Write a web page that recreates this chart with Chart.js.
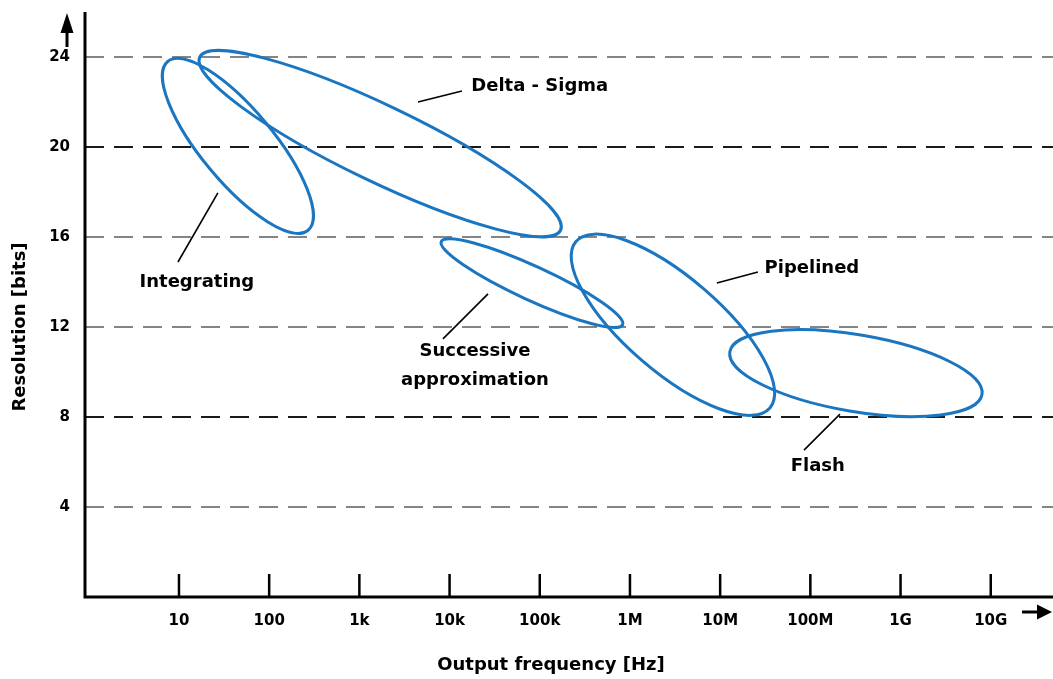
<!DOCTYPE html>
<html>
<head>
<meta charset="utf-8">
<script src="https://cdn.jsdelivr.net/npm/chart.js@4.4.0/dist/chart.umd.min.js"></script>
<style>
  html, body { margin: 0; padding: 0; background: #fff; }
  #wrap { width: 1053px; height: 679px; }
</style>
</head>
<body>
<div id="wrap"><canvas id="myChart" width="1053" height="679"></canvas></div>
<script>
// ADC types: output frequency vs resolution
var freqTicks = [10, 1e2, 1e3, 1e4, 1e5, 1e6, 1e7, 1e8, 1e9, 1e10];
var freqLabels = ['10', '100', '1k', '10k', '100k', '1M', '10M', '100M', '1G', '10G'];
var bitTicks = [4, 8, 12, 16, 20, 24];

// each region is an ellipse: ends of its long axis [Hz, bits] and width / length
var adcNames = ['Integrating', 'Delta - Sigma', 'Successive approximation', 'Pipelined', 'Flash'];
var axisStart = [[7.5, 23.8], [17, 24.0], [8100, 15.8], [252000, 15.8], [1.28e7, 10.9]];
var axisEnd = [[270, 16.3], [170000, 16.3], [830000, 12.1], [3.56e7, 8.4], [8e9, 9.0]];
var widthRatio = [0.33, 0.19, 0.17, 0.37, 0.30];

var FONT = '"DejaVu Sans", sans-serif';
var BLUE = '#1a76c0';

// label text, where it sits and its pointer line (in Hz / bits)
var notes = [
    { lines: ['Integrating'], at: [15.8, 14.0], from: [27, 17.96], to: [9.75, 14.89] },
    { lines: ['Delta - Sigma'], at: [1e5, 22.7], from: [4470, 22.0], to: [13700, 22.49] },
    { lines: ['Successive', 'approximation'], at: [19100, 10.29], from: [26700, 13.47], to: [8450, 11.47] },
    { lines: ['Pipelined'], at: [1.04e8, 14.62], from: [9.2e6, 13.96], to: [2.62e7, 14.44] },
    { lines: ['Flash'], at: [1.21e8, 5.8], from: [2.13e8, 8.13], to: [8.5e7, 6.53] }
];

var adcPlugin = {
    id: 'adc',
    afterDraw: function (chart) {
        var ctx = chart.ctx, xs = chart.scales.x, ys = chart.scales.y, a = chart.chartArea;
        ctx.save();

        // axes
        ctx.strokeStyle = '#000';
        ctx.lineWidth = 3;
        ctx.beginPath();
        ctx.moveTo(a.left, a.top);
        ctx.lineTo(a.left, a.bottom + 1.5);
        ctx.moveTo(a.left - 1.5, a.bottom);
        ctx.lineTo(a.right, a.bottom);
        ctx.stroke();

        // tick marks pointing up
        ctx.lineWidth = 2.5;
        ctx.beginPath();
        freqTicks.forEach(function (f) {
            var px = xs.getPixelForValue(f);
            ctx.moveTo(px, a.bottom);
            ctx.lineTo(px, a.bottom - 23);
        });
        ctx.stroke();

        // arrows
        ctx.fillStyle = '#000';
        var ax = a.left - 18;
        ctx.lineWidth = 3;
        ctx.beginPath();
        ctx.moveTo(ax, a.top + 35);
        ctx.lineTo(ax, a.top + 18);
        ctx.stroke();
        ctx.beginPath();
        ctx.moveTo(ax, a.top + 1);
        ctx.lineTo(ax - 6.5, a.top + 21);
        ctx.lineTo(ax + 6.5, a.top + 21);
        ctx.closePath();
        ctx.fill();
        var ay = a.bottom + 15;
        ctx.beginPath();
        ctx.moveTo(a.right - 31, ay);
        ctx.lineTo(a.right - 14, ay);
        ctx.stroke();
        ctx.beginPath();
        ctx.moveTo(a.right - 1, ay);
        ctx.lineTo(a.right - 16, ay - 7.5);
        ctx.lineTo(a.right - 16, ay + 7.5);
        ctx.closePath();
        ctx.fill();

        // axis titles
        ctx.font = 'bold 18px ' + FONT;
        ctx.textAlign = 'center';
        ctx.textBaseline = 'middle';
        ctx.fillText('Output frequency [Hz]', 551, a.bottom + 68);
        ctx.save();
        ctx.translate(20, 327);
        ctx.rotate(-Math.PI / 2);
        ctx.fillText('Resolution [bits]', 0, 0);
        ctx.restore();

        // ellipses
        ctx.strokeStyle = BLUE;
        ctx.lineWidth = 3;
        for (var i = 0; i < adcNames.length; i++) {
            var x1 = xs.getPixelForValue(axisStart[i][0]), y1 = ys.getPixelForValue(axisStart[i][1]);
            var x2 = xs.getPixelForValue(axisEnd[i][0]), y2 = ys.getPixelForValue(axisEnd[i][1]);
            var half = Math.hypot(x2 - x1, y2 - y1) / 2;
            ctx.beginPath();
            ctx.ellipse((x1 + x2) / 2, (y1 + y2) / 2, half, half * widthRatio[i],
                Math.atan2(y2 - y1, x2 - x1), 0, 2 * Math.PI);
            ctx.stroke();
        }

        // labels
        ctx.strokeStyle = '#000';
        ctx.lineWidth = 1.6;
        ctx.fillStyle = '#000';
        notes.forEach(function (n) {
            ctx.beginPath();
            ctx.moveTo(xs.getPixelForValue(n.from[0]), ys.getPixelForValue(n.from[1]));
            ctx.lineTo(xs.getPixelForValue(n.to[0]), ys.getPixelForValue(n.to[1]));
            ctx.stroke();
            var cx = xs.getPixelForValue(n.at[0]), cy = ys.getPixelForValue(n.at[1]);
            var y0 = cy - (n.lines.length - 1) * 14.5;
            n.lines.forEach(function (t, k) {
                ctx.fillText(t, cx, y0 + k * 29);
            });
        });

        ctx.restore();
    }
};

var ctx = document.getElementById('myChart').getContext('2d');
var chart = new Chart(ctx, {
    type: 'scatter',
    data: { datasets: [] },
    options: {
        responsive: false,
        devicePixelRatio: 1,
        animation: false,
        events: [],
        layout: { padding: { top: 12, left: 0, right: 0, bottom: 0 } },
        plugins: { legend: { display: false }, tooltip: { enabled: false } },
        scales: {
            x: {
                type: 'logarithmic',
                min: 0.908,
                max: 4.9e10,
                grid: { display: false, drawTicks: false },
                border: { display: false },
                ticks: {
                    padding: 15,
                    color: '#000',
                    font: { family: FONT, size: 15, weight: 'bold' },
                    maxRotation: 0,
                    autoSkip: false,
                    callback: function (v) {
                        var i = freqTicks.indexOf(v);
                        return i >= 0 ? freqLabels[i] : '';
                    }
                },
                afterBuildTicks: function (s) {
                    s.ticks = freqTicks.map(function (v) { return { value: v }; });
                },
                afterFit: function (s) {
                    s.height = 82;
                    s.paddingLeft = 0;
                    s.paddingRight = 0;
                }
            },
            y: {
                type: 'linear',
                min: 0,
                max: 26,
                grid: {
                    drawTicks: false,
                    lineWidth: 2,
                    color: function (c) {
                        var v = c.tick ? c.tick.value : 0;
                        return (v === 20 || v === 8) ? '#1a1a1a' : '#858585';
                    }
                },
                border: { display: false, dash: [19, 10] },
                ticks: {
                    padding: 15,
                    color: '#000',
                    font: { family: FONT, size: 15, weight: 'bold' },
                    stepSize: 4
                },
                afterBuildTicks: function (s) {
                    s.ticks = bitTicks.map(function (v) { return { value: v }; });
                },
                afterFit: function (s) {
                    s.width = 85;
                    s.paddingTop = 0;
                    s.paddingBottom = 0;
                }
            }
        }
    },
    plugins: [adcPlugin]
});
</script>
</body>
</html>
